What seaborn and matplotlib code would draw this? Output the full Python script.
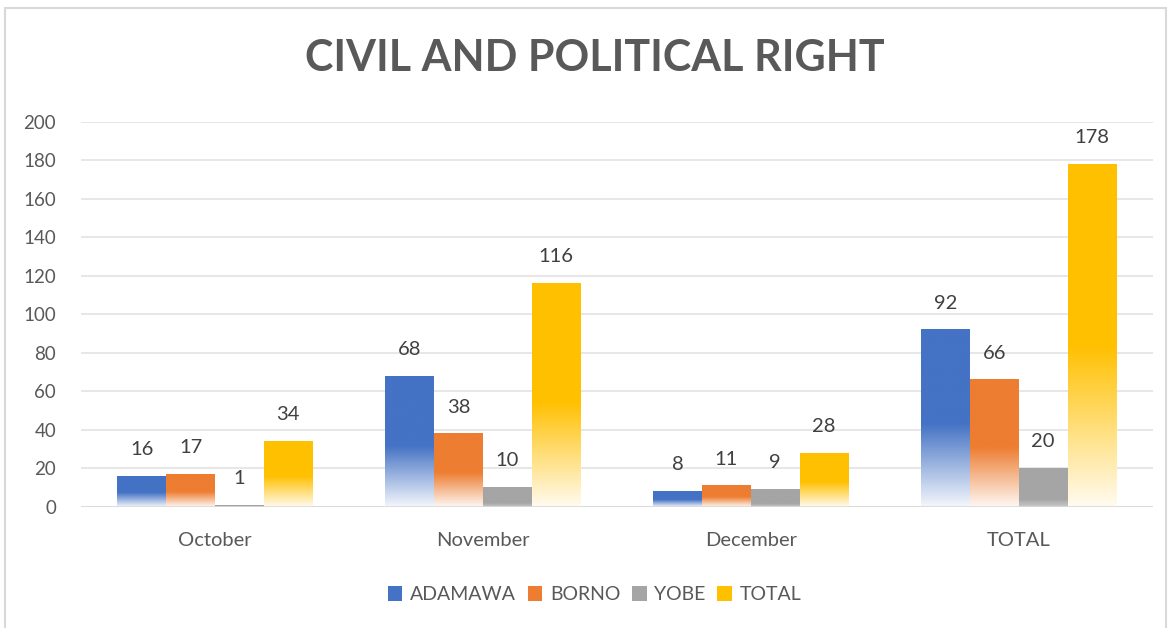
import numpy as np
import pandas as pd
import seaborn as sns
import matplotlib.pyplot as plt
from matplotlib.colors import to_rgb
from matplotlib.patches import Patch, Rectangle

# values
months = ['October', 'November', 'December', 'TOTAL']
adamawa = [16, 68, 8, 92]
borno = [17, 38, 11, 66]
yobe = [1, 10, 9, 20]
total = [34, 116, 28, 178]

states = ['ADAMAWA', 'BORNO', 'YOBE', 'TOTAL']
colors = ['#4472C4', '#ED7D31', '#A5A5A5', '#FFC000']

df = pd.DataFrame({
    'Month': months * 4,
    'State': [s for s in states for _ in months],
    'Count': adamawa + borno + yobe + total,
})

sns.set_style('white')
plt.rcParams['font.family'] = ['Lato', 'DejaVu Sans']
text_color = '#595959'

fig = plt.figure(figsize=(11.75, 6.28), dpi=100)
ax = fig.add_axes([0.069, 0.193, 0.912, 0.613])

sns.barplot(data=df, x='Month', y='Count', hue='State', order=months,
            hue_order=states, palette=colors, width=0.73, saturation=1,
            legend=False, ax=ax)

# excel-like gradient: solid on top, fading to white at the bottom
n = 200
t = np.linspace(0, 1, n)[:, None]
for cont, col in zip(ax.containers, colors):
    rgb = np.array(to_rgb(col))
    a = np.clip(0.06 + t / 0.5, 0, 1)
    if col == '#A5A5A5':
        a = np.clip(0.6 + t / 0.5, 0, 1)
    img = a[..., None] * rgb + (1 - a[..., None]) * 1.0
    img = np.repeat(img, 2, axis=1)
    for bar in cont:
        x, w, h = bar.get_x(), bar.get_width(), bar.get_height()
        ax.imshow(img, extent=[x, x + w, 0, h], origin='lower',
                  aspect='auto', zorder=3, interpolation='bilinear')
        bar.set_visible(False)
    ax.bar_label(cont, labels=[str(int(v.get_height())) for v in cont],
                 padding=13, fontsize=14.5, color='#404040')

ax.set_xlim(-0.5, 3.5)
ax.set_ylim(0, 200)
ax.set_yticks(range(0, 201, 20))
ax.yaxis.grid(True, color='#E3E3E3', linewidth=1.2, zorder=0)
ax.set_axisbelow(True)
for s in ax.spines.values():
    s.set_visible(False)
ax.axhline(0, color='#D9D9D9', linewidth=1.2, zorder=4)
ax.tick_params(axis='y', labelsize=13.5, labelcolor=text_color, length=0, pad=18)
ax.tick_params(axis='x', labelsize=14.5, labelcolor=text_color, length=0, pad=18)
ax.set_xlabel('')
ax.set_ylabel('')

fig.text(0.506, 0.908, 'CIVIL AND POLITICAL RIGHT', ha='center', va='center',
         fontsize=31, fontweight='bold', color=text_color)

handles = [Patch(facecolor=c, edgecolor='none') for c in colors]
fig.legend(handles, states, loc='center', bbox_to_anchor=(0.506, 0.053),
           ncol=4, frameon=False, fontsize=14, handlelength=0.75,
           handleheight=0.75, handletextpad=0.4, columnspacing=0.6,
           labelcolor=text_color)

fig.add_artist(Rectangle((0.004, -0.01), 0.988, 0.998, transform=fig.transFigure,
                         fill=False, edgecolor='#D9D9D9', linewidth=1.5))

fig.savefig('out.png', dpi=100)
